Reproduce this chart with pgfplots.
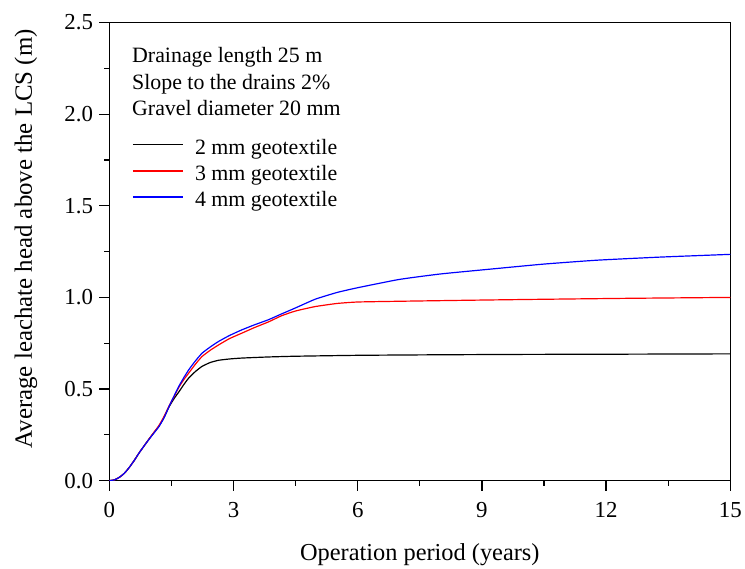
\documentclass[border=0pt]{standalone}
\usepackage{fontspec}
\setmainfont{Liberation Serif}
\usepackage{pgfplots}
\pgfplotsset{compat=1.18}
\begin{document}
\begin{tikzpicture}
\begin{axis}[
  name=ax,
  scale only axis, width=624.3bp, height=460.6bp,
  xmin=0, xmax=15, ymin=0, ymax=2.5,
  xtick={0,3,6,9,12,15}, ytick={0,0.5,1,1.5,2,2.5},
  minor x tick num=1, minor y tick num=1,
  tick align=outside, major tick length=10bp, minor tick length=5bp,
  xtick pos=bottom, ytick pos=left,
  xticklabel={\pgfmathprintnumber[assume math mode=true]{\tick}},
  yticklabel={\pgfmathprintnumber[assume math mode=true,fixed,fixed zerofill,precision=1]{\tick}},
  tick label style={font=\fontsize{23bp}{26bp}\selectfont},
  xticklabel style={yshift=-8bp},
  yticklabel style={xshift=-3bp},
  axis line style={line width=1.2bp},
  every tick/.style={line width=1.2bp, black},
  xlabel={Operation period (years)},
  ylabel={Average leachate head above the LCS (m)},
  every axis x label/.style={at={(axis description cs:0.5,0)}, anchor=base, yshift=-80bp, font=\fontsize{24.5bp}{28bp}\selectfont},
  every axis y label/.style={at={(axis description cs:-0.1346,0.528)}, rotate=90, anchor=center, font=\fontsize{25bp}{28bp}\selectfont},
  legend style={at={(rel axis cs:0.0364,0.7503)}, anchor=north west, draw=none, fill=none, inner sep=0pt, column sep=12bp, row sep=0pt,
    font=\fontsize{22bp}{26bp}\selectfont, nodes={inner sep=0pt, text height=17bp, text depth=9.3bp}},
  legend cell align=left,
  legend image code/.code={\draw[#1, line width=1.2bp] (0bp,5.5bp) -- (50bp,5.5bp);},
]
\addplot[black, line width=1.2bp, smooth, tension=0.3] coordinates {
(0,0) (0.12,0.004) (0.24,0.018) (0.36,0.04) (0.48,0.072) (0.6,0.11) (0.72,0.152) (0.84,0.19) (0.96,0.228) (1.08,0.263) (1.2,0.298) (1.32,0.345) (1.44,0.402)
(1.56,0.447) (1.68,0.485) (1.8,0.525) (1.92,0.561) (2.08,0.596) (2.24,0.624) (2.44,0.645) (2.64,0.657) (2.9,0.664) (3.2,0.669) (3.84,0.675) (4.5,0.679) (6,0.684) (8,0.687) (10,0.689) (12,0.69) (15,0.692)
};
\addlegendentry{2 mm geotextile}
\addplot[red, line width=1.2bp, smooth, tension=0.3] coordinates {
(0,0) (0.12,0.004) (0.24,0.018) (0.36,0.04) (0.48,0.072) (0.6,0.11) (0.72,0.152) (0.84,0.19) (0.96,0.228) (1.08,0.265) (1.2,0.302) (1.32,0.35) (1.44,0.407)
(1.56,0.458) (1.68,0.51) (1.8,0.552) (1.92,0.588) (2.08,0.636) (2.24,0.678) (2.44,0.712) (2.64,0.741) (2.9,0.775) (3.2,0.805) (3.5,0.835) (3.84,0.866) (4.16,0.9) (4.5,0.926) (4.97,0.95) (5.5,0.967) (6,0.975) (7,0.979) (8.5,0.984) (10.17,0.989) (12.5,0.995) (15,1.0)
};
\addlegendentry{3 mm geotextile}
\addplot[blue, line width=1.2bp, smooth, tension=0.3] coordinates {
(0,0) (0.12,0.004) (0.24,0.018) (0.36,0.04) (0.48,0.072) (0.6,0.11) (0.72,0.152) (0.84,0.19) (0.96,0.226) (1.08,0.261) (1.2,0.296) (1.32,0.343) (1.44,0.404)
(1.56,0.461) (1.68,0.516) (1.8,0.563) (1.92,0.606) (2.08,0.654) (2.24,0.696) (2.44,0.73) (2.64,0.76) (2.9,0.792) (3.2,0.823) (3.5,0.85) (3.84,0.878) (4.16,0.91) (4.5,0.943) (4.97,0.99) (5.5,1.027) (6,1.053) (7,1.098) (8,1.128) (9.37,1.158) (10.5,1.182) (11.77,1.203) (13.3,1.22) (15,1.235)
};
\addlegendentry{4 mm geotextile}
\node[anchor=base west, inner sep=0pt, font=\fontsize{22bp}{26bp}\selectfont] at (rel axis cs:0.0364,0.9118) {Drainage length 25 m};
\node[anchor=base west, inner sep=0pt, font=\fontsize{22bp}{26bp}\selectfont] at (rel axis cs:0.0364,0.8548) {Slope to the drains 2\%};
\node[anchor=base west, inner sep=0pt, font=\fontsize{22bp}{26bp}\selectfont] at (rel axis cs:0.0364,0.7977) {Gravel diameter 20 mm};
\end{axis}
\path (ax.south west) ++(-110bp,-84.7bp) rectangle ++(745bp,568bp);
\end{tikzpicture}
\end{document}
